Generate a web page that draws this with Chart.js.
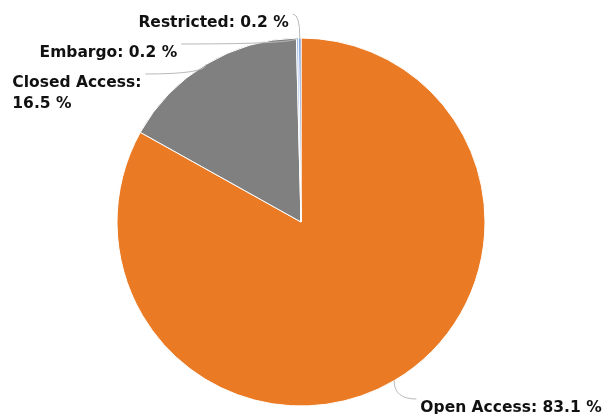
<!DOCTYPE html>
<html><head><meta charset="utf-8">
<script src="https://cdn.jsdelivr.net/npm/chart.js@4/dist/chart.umd.min.js"></script>
<style>html,body{margin:0;padding:0;background:#fff;overflow:hidden}#wrap{width:606px;height:414px;position:relative}</style>
</head><body><div id="wrap"><canvas id="c" width="606" height="414"></canvas></div>
<script>
const categories = ['Open Access', 'Closed Access', 'Embargo', 'Restricted'];
const values = [83.1, 16.5, 0.2, 0.2];
const colors = ['#EA7A24', '#808080', '#A4BFE6', '#5E86CC'];

const FONT = 'bold 15.5px "DejaVu Sans", sans-serif';
const LINE_H = 21;
const LABEL_DIST = 30;
const PAD = 5;
const PAD_NATURAL = 11;
const GAP = 9;
const MIN_TOP = 10;
const BOTTOM_OVERFLOW = 2;
const LEFT_MARGIN = 12;

const labelPlugin = {
  id: 'pieLabels',
  afterDatasetsDraw(chart) {
    const ctx = chart.ctx;
    const meta = chart.getDatasetMeta(0);
    const H = chart.height;
    ctx.save();
    ctx.font = FONT;
    const items = meta.data.map((arc, i) => {
      const p = arc.getProps(['x', 'y', 'startAngle', 'endAngle', 'outerRadius'], true);
      const mid = (p.startAngle + p.endAngle) / 2;
      const cos = Math.cos(mid), sin = Math.sin(mid);
      const R = p.outerRadius + LABEL_DIST;
      const text = categories[i] + ': ' + values[i] + ' %';
      return {
        i, cx: p.x, cy: p.y, R, cos, sin,
        px: p.x + cos * p.outerRadius, py: p.y + sin * p.outerRadius,
        naturalY: p.y + sin * R, left: cos < 0,
        text, lines: [text]
      };
    });

    function wrap(text, maxW) {
      const words = text.split(' ');
      const lines = [];
      let cur = '';
      for (const w of words) {
        const t = cur ? cur + ' ' + w : w;
        if (cur && ctx.measureText(t).width > maxW) { lines.push(cur); cur = w; }
        else cur = t;
      }
      if (cur) lines.push(cur);
      return lines;
    }

    function layout(side) {
      side.sort((a, b) => a.naturalY - b.naturalY);
      const minAnchor = MIN_TOP + 4;
      let prevBottom = -Infinity;
      for (const it of side) {
        let a = Math.max(it.naturalY, minAnchor, prevBottom + GAP + 4);
        const maxAnchor = H + BOTTOM_OVERFLOW + 4 - it.lines.length * LINE_H;
        if (a > maxAnchor) a = maxAnchor;
        it.anchor = a;
        prevBottom = a - 4 + it.lines.length * LINE_H;
        const natural = (a <= minAnchor + 2 || a >= maxAnchor - 2);
        const yForX = natural ? it.naturalY : a;
        const dy = yForX - it.cy;
        const dx = Math.sqrt(Math.max(it.R * it.R - dy * dy, 0));
        const pad = natural ? PAD_NATURAL : PAD;
        it.xEdge = it.cx + (it.left ? -dx : dx);
        it.textEdge = it.xEdge + (it.left ? -pad : pad);
      }
    }

    const leftSide = items.filter(it => it.left);
    const rightSide = items.filter(it => !it.left);
    for (let pass = 0; pass < 2; pass++) {
      layout(leftSide); layout(rightSide);
      for (const it of leftSide) {
        const w = ctx.measureText(it.text).width;
        if (it.textEdge - w < LEFT_MARGIN) it.lines = wrap(it.text, it.textEdge - LEFT_MARGIN);
      }
    }

    // connectors
    ctx.strokeStyle = '#b8b8b8';
    ctx.lineWidth = 1;
    for (const it of items) {
      const sx = it.textEdge + (it.left ? 4 : -4);
      ctx.beginPath();
      ctx.moveTo(sx, it.anchor);
      ctx.quadraticCurveTo(it.px, it.anchor, it.px, it.py);
      ctx.stroke();
    }

    // texts
    ctx.fillStyle = '#111';
    ctx.textBaseline = 'middle';
    ctx.textAlign = 'left';
    for (const it of items) {
      const widths = it.lines.map(l => ctx.measureText(l).width);
      const boxW = Math.max(...widths);
      const boxLeft = it.left ? it.textEdge - boxW : it.textEdge;
      it.lines.forEach((l, k) => {
        const y = it.anchor - 2 + LINE_H * (k + 0.5);
        const x = it.lines.length > 1 ? boxLeft : (it.left ? it.textEdge - widths[k] : it.textEdge);
        ctx.fillText(l, x, y);
      });
    }
    ctx.restore();
  }
};

new Chart(document.getElementById('c'), {
  type: 'pie',
  data: {
    labels: categories,
    datasets: [{
      data: values,
      backgroundColor: colors,
      borderColor: '#ffffff',
      borderWidth: 1,
      hoverOffset: 0,
      radius: 184
    }]
  },
  options: {
    responsive: false,
    animation: false,
    events: [],
    layout: { padding: { top: 38, bottom: 8, left: 0, right: 4 } },
    plugins: { legend: { display: false }, tooltip: { enabled: false } }
  },
  plugins: [labelPlugin]
});
</script>
</body></html>
